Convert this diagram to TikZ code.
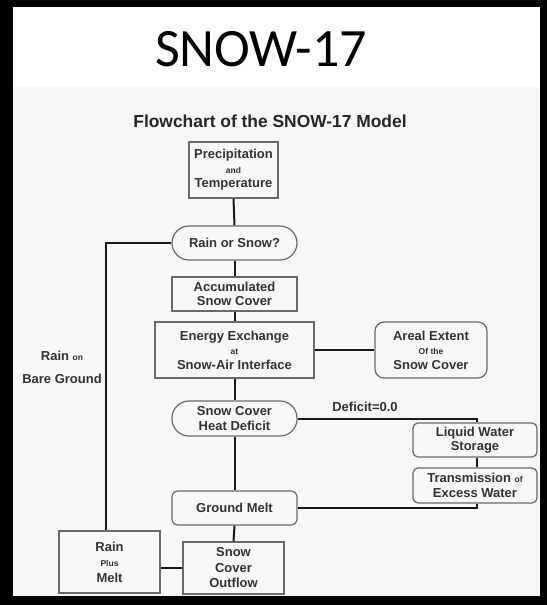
\documentclass[tikz,border=0pt]{standalone}
\usepackage{fontspec}
\setmainfont{Liberation Sans}
\newfontfamily\titlefont{Carlito}
\definecolor{txt}{HTML}{333333}
\definecolor{bgc}{HTML}{F7F7F7}
\definecolor{edgec}{HTML}{6A6A6A}
\newcommand\smallword[1]{{\fontsize{8.5}{14}\selectfont #1}}
\begin{document}
\begin{tikzpicture}[x=1pt,y=-1pt,
  base/.style={draw=edgec, line width=1.2pt, fill=bgc, text=txt,
    font=\bfseries\fontsize{13}{14.5}\selectfont, align=center, inner sep=0pt},
  sq/.style={base},
  rnd/.style={base, rounded corners=7pt},
  pill/.style={base, rounded corners=17pt},
  lbl/.style={text=txt, font=\bfseries\fontsize{13}{14.5}\selectfont, align=center, inner sep=0pt},
  conn/.style={draw=black!90, line width=2pt}
]
\useasboundingbox (0,0) rectangle (547,605);
\fill[black] (0,0) rectangle (547,605);
\fill[white] (13,7) rectangle (540,87);
\fill[bgc] (13,87) rectangle (540,596);

\node[font=\titlefont\fontsize{54}{60}\selectfont, inner sep=0pt] (title) at (261,49.5) {SNOW-17};
\node[font=\bfseries\fontsize{17.4}{20}\selectfont, text=black!85, inner sep=0pt] (sub) at (270,121) {Flowchart of the SNOW-17 Model};

\node[sq, minimum width=89pt, minimum height=56pt] (prec) at (233.5,170) {Precipitation\\\smallword{and}\\Temperature};
\node[pill, minimum width=125pt, minimum height=34pt] (rs) at (234.5,243) {Rain or Snow?};
\node[sq, minimum width=125pt, minimum height=34pt] (acc) at (234.5,294) {Accumulated\\Snow Cover};
\node[sq, minimum width=159pt, minimum height=56pt] (en) at (234.5,350) {Energy Exchange\\\smallword{at}\\Snow-Air Interface};
\node[rnd, rounded corners=9pt, minimum width=112pt, minimum height=56pt] (ar) at (431,350) {Areal Extent\\\smallword{Of the}\\Snow Cover};
\node[pill, minimum width=125pt, minimum height=35pt] (hd) at (234.5,418.5) {Snow Cover\\Heat Deficit};
\node[rnd, rounded corners=5pt, minimum width=124pt, minimum height=34pt] (lw) at (475,440) {Liquid Water\\Storage};
\node[rnd, rounded corners=5pt, minimum width=124pt, minimum height=35pt] (tr) at (475,485.5) {Transmission \smallword{of}\\Excess Water};
\node[rnd, rounded corners=6pt, minimum width=125pt, minimum height=34pt] (gm) at (234.5,508) {Ground Melt};
\node[sq, minimum width=101pt, minimum height=62pt, font=\bfseries\fontsize{13}{15.5}\selectfont] (rpm) at (109.5,562) {Rain\\\smallword{Plus}\\Melt};
\node[sq, minimum width=101pt, minimum height=52pt, font=\bfseries\fontsize{13}{15.5}\selectfont] (of) at (233.5,568) {Snow\\Cover\\Outflow};

\node[lbl, font=\bfseries\fontsize{13}{23}\selectfont] (rob) at (62,367) {Rain \smallword{on}\\Bare Ground};
\node[lbl] (def) at (365,407) {Deficit=0.0};

\coordinate (lx) at (106,0);
\coordinate (rx) at (477,0);

\draw[conn] (prec.south) -- (rs.north);
\draw[conn] (rs.west) -| (lx |- rpm.north);
\draw[conn] (rs.south) -- (acc.north);
\draw[conn] (acc.south) -- (en.north);
\draw[conn] (en.east) -- (en.east -| ar.west);
\draw[conn] (en.south) -- (hd.north);
\draw[conn] (hd.east) -| (rx |- lw.north);
\draw[conn] (rx |- lw.south) -- (rx |- tr.north);
\draw[conn] (rx |- tr.south) |- (gm.east);
\draw[conn] (hd.south) -- (gm.north);
\draw[conn] (gm.south) -- (of.north);
\draw[conn] (of.west) -- (of.west -| rpm.east);
\end{tikzpicture}
\end{document}
